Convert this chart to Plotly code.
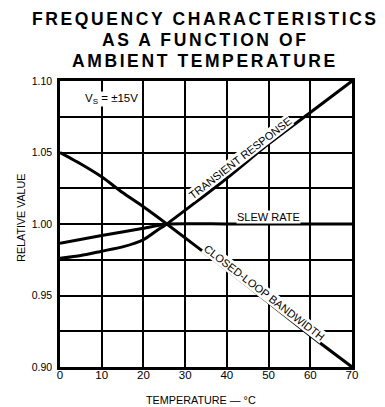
import plotly.graph_objects as go

# ---- data ----
cl_temp = [0, 5, 10, 15, 20, 25.6, 40, 50, 60, 70]
cl_val = [1.050, 1.042, 1.033, 1.022, 1.012, 1.000, 0.968, 0.945, 0.922, 0.900]

tr_temp = [0, 5, 10, 15, 20, 23, 25.6, 40, 50, 60, 70]
tr_val = [0.976, 0.978, 0.981, 0.984, 0.989, 0.995, 1.000, 1.032, 1.056, 1.078, 1.100]

sr_temp = [0, 10, 20, 25.6, 40, 55, 70]
sr_val = [0.9865, 0.992, 0.997, 1.000, 1.000, 1.000, 1.000]

x_ticks = [0, 10, 20, 30, 40, 50, 60, 70]
y_ticks = [0.90, 0.95, 1.00, 1.05, 1.10]
y_labels = ["0.90", "0.95", "1.00", "1.05", "1.10"]
y_minor = [0.925, 0.975, 1.025, 1.075]

title_lines = ["FREQUENCY CHARACTERISTICS", "AS A FUNCTION OF", "AMBIENT TEMPERATURE"]

FONT = "Liberation Sans, Arial, Helvetica, sans-serif"

fig = go.Figure()
for tx, ty in [(cl_temp, cl_val), (tr_temp, tr_val), (sr_temp, sr_val)]:
    fig.add_trace(go.Scatter(x=tx, y=ty, mode="lines",
                             line=dict(color="black", width=3, shape="spline", smoothing=0.6),
                             showlegend=False, hoverinfo="skip"))

# Title lines
for txt, yp in zip(title_lines, [1.2185, 1.1451, 1.0699]):
    fig.add_annotation(text=f"<b><span style='letter-spacing:2.6px'>{txt}</span></b>",
                       xref="paper", yref="paper", x=0.4966, y=yp,
                       xanchor="center", yanchor="middle", showarrow=False,
                       font=dict(family=FONT, size=17.5, color="black"))

# In-plot labels
fig.add_annotation(text="V<sub>S</sub> = ±15V", x=5.75, y=1.0874, xanchor="left", yanchor="middle",
                   showarrow=False, bgcolor="white", borderpad=0,
                   font=dict(family=FONT, size=11.5, color="black"))
fig.add_annotation(text="SLEW RATE", x=49.9, y=1.0051, xanchor="center", yanchor="middle",
                   showarrow=False, bgcolor="white", borderpad=0,
                   font=dict(family=FONT, size=11, color="black"))
fig.add_annotation(text="TRANSIENT RESPONSE", x=43.15, y=1.0462, textangle=-37.7,
                   xanchor="center", yanchor="middle", bgcolor="white", borderpad=0,
                   showarrow=False, font=dict(family=FONT, size=11, color="black"))
fig.add_annotation(text="CLOSED-LOOP BANDWIDTH", x=49.14, y=0.9521, textangle=37.7,
                   xanchor="center", yanchor="middle", bgcolor="white", borderpad=0,
                   showarrow=False, font=dict(family=FONT, size=11, color="black"))

# Axis titles
fig.add_annotation(text="RELATIVE VALUE", xref="paper", yref="paper", x=-0.1346, y=0.521,
                   textangle=-90, xanchor="center", yanchor="middle", showarrow=False,
                   font=dict(family=FONT, size=10.7, color="black"))
fig.add_annotation(text="TEMPERATURE — °C", xref="paper", yref="paper", x=0.4829, y=-0.117,
                   xanchor="center", yanchor="middle", showarrow=False,
                   font=dict(family=FONT, size=10.8, color="black"))

fig.update_layout(
    width=377, height=399,
    margin=dict(l=52, r=33, t=73, b=40, autoexpand=False),
    paper_bgcolor="white", plot_bgcolor="white",
    font=dict(family=FONT, size=11, color="black"),
    xaxis=dict(range=[0, 70], tickvals=x_ticks, ticks="", ticklen=0, showgrid=True,
               gridcolor="black", gridwidth=1.8, zeroline=False,
               showline=True, linecolor="black", linewidth=2.5, mirror=True,
               ticklabelstandoff=-5, tickfont=dict(size=11.5)),
    yaxis=dict(range=[0.90, 1.10], tickvals=y_ticks, ticktext=y_labels, ticks="", ticklen=0,
               showgrid=True, gridcolor="black", gridwidth=1.8, zeroline=False,
               minor=dict(tickvals=y_minor, showgrid=True,
                          gridcolor="black", gridwidth=1.8, ticks=""),
               showline=True, linecolor="black", linewidth=2.5, mirror=True,
               ticklabelstandoff=3, tickfont=dict(size=10.5)),
)

fig.write_html("out.html")
